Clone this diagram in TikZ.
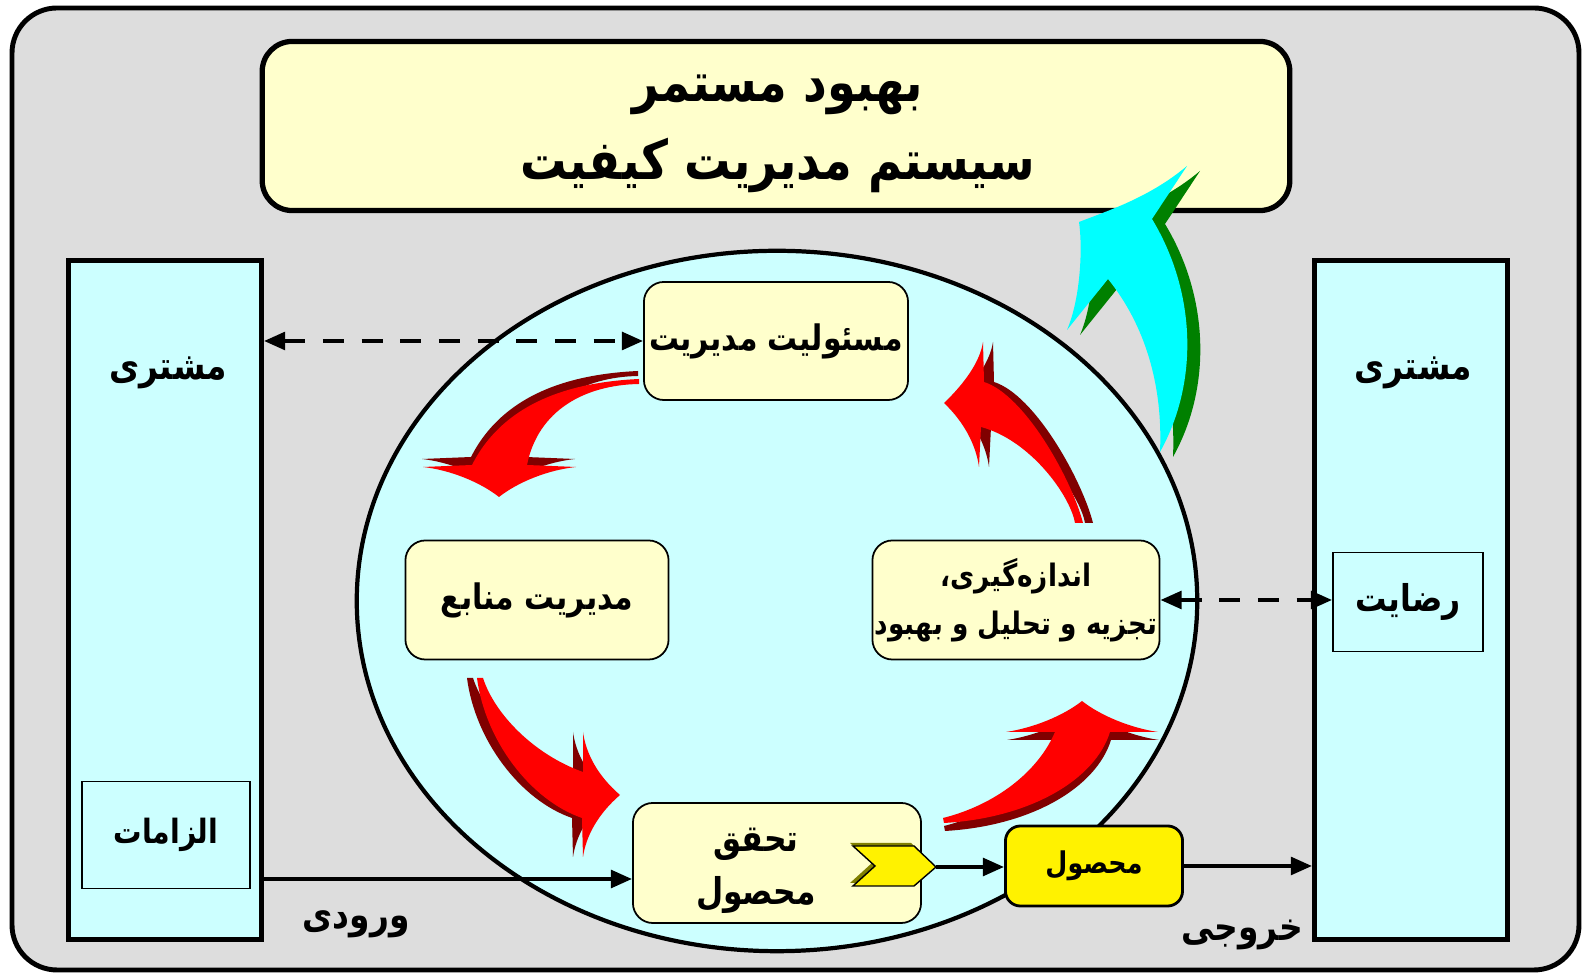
\documentclass[tikz,border=0pt]{standalone}
\usepackage{fontspec}
\usetikzlibrary{arrows.meta}
\TeXXeTstate=1
\newfontfamily\farsi[Script=Arabic, FakeStretch=0.85]{DejaVu Sans}
\newcommand\fa[1]{\beginR#1\endR}

\definecolor{panelgray}{HTML}{DDDDDD}
\definecolor{palecyan}{HTML}{CCFFFF}
\definecolor{paleyellow}{HTML}{FFFFCC}
\definecolor{turnred}{HTML}{FF0000}
\definecolor{turndark}{HTML}{800000}
\definecolor{liftcyan}{HTML}{00FFFF}
\definecolor{liftgreen}{HTML}{008000}
\definecolor{gateolive}{HTML}{808000}

\tikzset{
  stagebox/.style={draw, line width=0.5pt, rounded corners=0.2cm, fill=paleyellow, inner sep=0pt, align=center, font=\farsi\bfseries\fontsize{10}{14}\selectfont},
  column/.style={draw, line width=1.4pt, fill=palecyan, minimum width=1.93cm, minimum height=6.78cm},
  tagbox/.style={draw, line width=0.5pt, fill=palecyan, font=\farsi\bfseries\fontsize{10.5}{13}\selectfont},
  word/.style={font=\farsi\bfseries\fontsize{11}{13}\selectfont},
  flow/.style={line width=1.1pt, -{Triangle[length=6pt,width=5pt]}},
  link/.style={line width=1.1pt, dash pattern=on 6pt off 5pt, {Triangle[length=6pt,width=5pt]}-{Triangle[length=6pt,width=5pt]}},
  turn shade/.style={fill=turndark}, turn face/.style={fill=turnred},
  lift shade/.style={fill=liftgreen}, lift face/.style={fill=liftcyan},
}

% block arrow with a shifted copy underneath as its side
\newcommand\turnarrow[3][turn]{%
  \fill[#1 shade, shift={#2}] #3;
  \fill[#1 face] #3;}

\begin{document}
\begin{tikzpicture}[x=0.01cm, y=-0.01cm, font=\farsi\bfseries]
  \useasboundingbox (0,0) rectangle (1584,974);
  \draw[line width=1.4pt, fill=panelgray, rounded corners=0.45cm] (12,8) rectangle (1579,970);

  \node[draw, line width=1.5pt, rounded corners=0.3cm, fill=paleyellow, minimum width=10.27cm, minimum height=1.69cm] (title) at (776,126) {};
  \node[align=center, font=\farsi\bfseries\fontsize{15.5}{22}\selectfont] (titletxt) at (778,134) {\fa{بهبود مستمر}\\\fa{سیستم مدیریت کیفیت}};

  % customers on both sides
  \node[column] (custL) at (165,600) {};
  \node[column] (custR) at (1411,600) {};
  \node[word] (custLtxt) at (168,373) {\fa{مشتری}};
  \node[word] (custRtxt) at (1413,373) {\fa{مشتری}};
  \node[tagbox, minimum width=1.68cm, minimum height=1.07cm, font=\farsi\bfseries\fontsize{9.5}{12}\selectfont] (needs) at (166,835) {\fa{الزامات}};
  \node[tagbox, minimum width=1.5cm, minimum height=0.99cm] (satisf) at (1408,602) {\fa{رضایت}};

  \draw[line width=1.2pt, fill=palecyan] (777,601) ellipse [x radius=4.2cm, y radius=3.5cm];

  \node[stagebox, minimum width=2.64cm, minimum height=1.18cm] (resp) at (776,341) {\fa{مسئولیت مدیریت}};
  \node[stagebox, minimum width=2.63cm, minimum height=1.19cm] (res) at (537,600) {\fa{مدیریت منابع}};
  \node[stagebox, minimum width=2.87cm, minimum height=1.19cm, font=\farsi\bfseries\fontsize{8.8}{13.5}\selectfont] (meas) at (1016,600) {\fa{اندازه‌گیری،}\\\fa{تجزیه و تحلیل و بهبود}};
  \node[stagebox, minimum width=2.88cm, minimum height=1.2cm] (real) at (777,863) {};
  \node[word, align=center, font=\farsi\bfseries\fontsize{10.5}{15}\selectfont] (realtxt) at (756,871) {\fa{تحقق}\\\fa{محصول}};

  % the four turning arrows of the cycle
  \turnarrow{(-1,-8)}{(639,379) .. controls (575,382) and (505,400) .. (472,465) -- (423,467) .. controls (450,470) and (480,482) .. (499,497) .. controls (518,482) and (548,470) .. (576,467) -- (527,465) .. controls (538,410) and (585,385) .. (639,384) -- cycle}
  \turnarrow{(-10,0)}{(477,678) -- (483,678) .. controls (495,715) and (535,755) .. (583,772) -- (583,732) .. controls (586,754) and (598,776) .. (620,795) .. controls (598,814) and (586,836) .. (583,857) -- (582,818) .. controls (530,800) and (485,740) .. (477,678) -- cycle}
  \turnarrow{(1,8)}{(943,818) .. controls (995,805) and (1038,772) .. (1055,732) -- (1006,732) .. controls (1033,728) and (1063,716) .. (1082,701) .. controls (1101,716) and (1131,728) .. (1158,732) -- (1110,732) .. controls (1095,780) and (1030,818) .. (944,823) -- cycle}
  \turnarrow{(10,0)}{(1075,523) .. controls (1070,495) and (1030,440) .. (981,427) -- (979,467) .. controls (976,445) and (964,422) .. (944,403) .. controls (964,384) and (980,362) .. (983,342) -- (984,382) .. controls (1025,395) and (1072,480) .. (1083,523) -- cycle}

  % output gate
  \fill[gateolive, shift={(-3,-3)}] (853,846) -- (914,846) -- (936,867) -- (914,886) -- (853,886) -- (875,866) -- cycle;
  \draw[fill=yellow, line width=0.4pt] (853,846) -- (914,846) -- (936,867) -- (914,886) -- (853,886) -- (875,866) -- cycle;
  \coordinate (gatetip) at (936,867);

  \node[stagebox, fill=yellow, line width=0.8pt, rounded corners=0.15cm, minimum width=1.77cm, minimum height=0.8cm, font=\farsi\bfseries\fontsize{8.5}{10}\selectfont] (prod) at (1094,866) {\fa{محصول}};

  \draw[link] (resp.west -| custL.east) -- (resp.west);
  \draw[link] (meas.east) -- (meas.east -| satisf.west);
  \coordinate (feed) at ([yshift=-0.16cm]real.west);
  \draw[flow] (feed -| custL.east) -- (feed);
  \draw[flow] (gatetip) -- (gatetip -| prod.west);
  \draw[flow] (prod.east) -- (prod.east -| custR.west);

  \node[word] (inword) at (356,924) {\fa{ورودی}};
  \node[word] (outword) at (1242,935) {\fa{خروجی}};

  % improvement arrow up to the top box
  \turnarrow[lift]{(13,5)}{(1079,222) .. controls (1110,210) and (1150,197) .. (1187,166) -- (1152,219) .. controls (1195,290) and (1200,380) .. (1160,452) .. controls (1163,385) and (1145,325) .. (1108,279) -- (1067,330) .. controls (1080,300) and (1083,250) .. (1079,222) -- cycle}
\end{tikzpicture}
\end{document}
